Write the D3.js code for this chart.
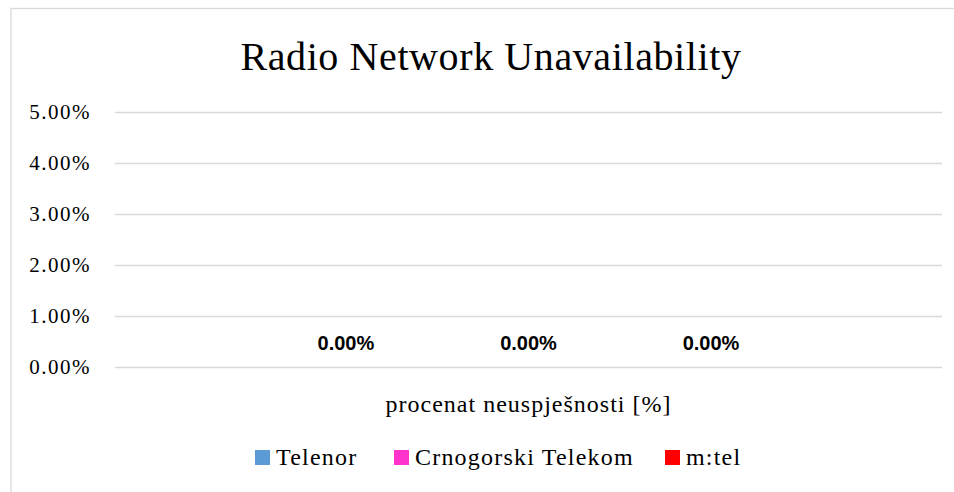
<!DOCTYPE html>
<html>
<head>
<meta charset="utf-8">
<script src="https://cdn.jsdelivr.net/npm/d3@7"></script>
<style>
  body { margin: 0; background: #fff; }
  svg { display: block; }
</style>
</head>
<body>
<div id="chart"></div>
<script>
const categories = ['procenat neuspješnosti [%]'];
const series = ['Telenor', 'Crnogorski Telekom', 'm:tel'];
const values = [0, 0, 0];
const colors = ['#5b9bd5', '#ff33cc', '#ff0000'];
const yTicks = [0, 0.01, 0.02, 0.03, 0.04, 0.05];

const width = 954;
const height = 492;
const serif = '"Liberation Serif", "DejaVu Serif", serif';
const sans = '"Liberation Sans", Arial, sans-serif';

let svg = d3.select('#chart')
  .append('svg')
  .attr('width', width)
  .attr('height', height);

// Chart frame (cut off at right and bottom).
svg.append('rect')
  .attr('x', 11)
  .attr('y', 8.5)
  .attr('width', width)
  .attr('height', height)
  .attr('fill', '#fff')
  .attr('stroke', '#d9d9d9')
  .attr('stroke-width', 1.3);

let plot = { left: 115, right: 942, top: 112, bottom: 367 };

let y = d3.scaleLinear().domain([0, 0.05]).range([plot.bottom, plot.top]);
let x0 = d3.scaleBand().domain(categories).range([plot.left, plot.right])
  .paddingInner(0).paddingOuter(0.255);
let x1 = d3.scaleBand().domain(series).range([0, x0.bandwidth()]);

// Title.
svg.append('text')
  .attr('x', 491)
  .attr('y', 70)
  .attr('text-anchor', 'middle')
  .style('font-family', serif)
  .style('font-size', '40px')
  .style('letter-spacing', '0.6px')
  .attr('fill', '#000')
  .text('Radio Network Unavailability');

// Gridlines and tick labels.
let yAxis = d3.axisLeft(y)
  .tickValues(yTicks)
  .tickSize(-(plot.right - plot.left))
  .tickPadding(24)
  .tickFormat(d3.format('.2%'));

let gy = svg.append('g')
  .attr('transform', `translate(${plot.left},0)`)
  .call(yAxis);
gy.select('.domain').remove();
gy.selectAll('.tick line')
  .attr('stroke', '#d9d9d9')
  .attr('stroke-width', 1.3);
gy.selectAll('.tick text')
  .style('font-family', serif)
  .style('font-size', '21px')
  .style('letter-spacing', '1.5px')
  .attr('fill', '#000');

// Bars (zero height) and data labels.
let groups = svg.append('g')
  .selectAll('g')
  .data(categories)
  .enter()
  .append('g')
  .attr('transform', d => `translate(${x0(d)},0)`);

groups.selectAll('rect')
  .data(() => series.map((s, i) => ({ s, v: values[i], c: colors[i] })))
  .enter()
  .append('rect')
  .attr('x', d => x1(d.s))
  .attr('y', d => y(d.v))
  .attr('width', x1.bandwidth())
  .attr('height', d => y(0) - y(d.v))
  .attr('fill', d => d.c);

groups.selectAll('text.label')
  .data(() => series.map((s, i) => ({ s, v: values[i] })))
  .enter()
  .append('text')
  .attr('class', 'label')
  .attr('x', d => x1(d.s) + x1.bandwidth() / 2)
  .attr('y', d => y(d.v) - 17)
  .attr('text-anchor', 'middle')
  .style('font-family', sans)
  .style('font-size', '20px')
  .style('font-weight', 'bold')
  .attr('fill', '#000')
  .text(d => d3.format('.2%')(d.v));

// Category label.
svg.append('g')
  .selectAll('text')
  .data(categories)
  .enter()
  .append('text')
  .attr('x', d => x0(d) + x0.bandwidth() / 2)
  .attr('y', 412)
  .attr('text-anchor', 'middle')
  .style('font-family', serif)
  .style('font-size', '24px')
  .style('letter-spacing', '1px')
  .attr('fill', '#000')
  .text(d => d);

// Legend.
let legendX = [255, 394, 665];
let legend = svg.append('g')
  .selectAll('g')
  .data(series)
  .enter()
  .append('g')
  .attr('transform', (d, i) => `translate(${legendX[i]},450)`);

legend.append('rect')
  .attr('width', 15)
  .attr('height', 15)
  .attr('fill', (d, i) => colors[i]);

legend.append('text')
  .attr('x', 21)
  .attr('y', 15)
  .style('font-family', serif)
  .style('font-size', '24px')
  .style('letter-spacing', '1.2px')
  .attr('fill', '#000')
  .text(d => d);
</script>
</body>
</html>
